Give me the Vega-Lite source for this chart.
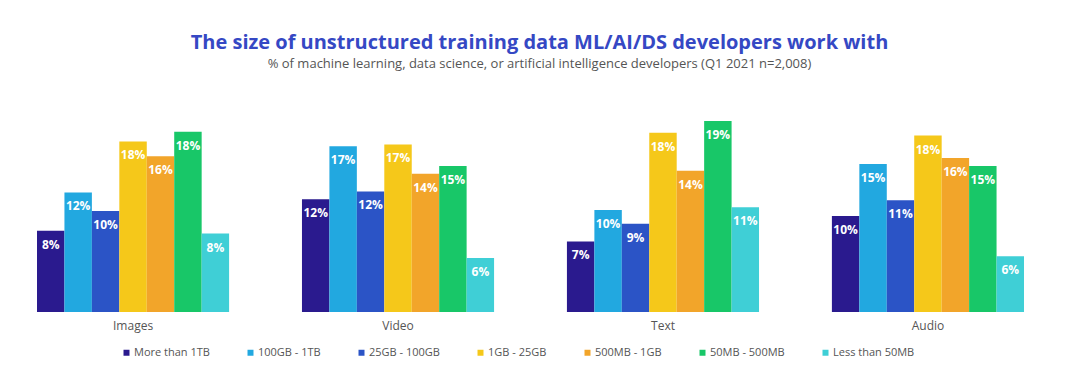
{
  "$schema": "https://vega.github.io/schema/vega-lite/v6.json",
  "width": 987,
  "height": 212,
  "autosize": "none",
  "padding": {"left": 37, "top": 100, "right": 56, "bottom": 78},
  "background": "white",
  "config": {"view": {"stroke": null}, "font": "Open Sans"},
  "title": {
    "text": "The size of unstructured training data ML/AI/DS developers work with",
    "subtitle": "% of machine learning, data science, or artificial intelligence developers (Q1 2021 n=2,008)",
    "anchor": "middle",
    "dx": 9,
    "offset": 29,
    "font": "Open Sans",
    "fontSize": 20,
    "fontWeight": "bold",
    "color": "#3548c4",
    "subtitleFont": "Open Sans",
    "subtitleFontSize": 13,
    "subtitleColor": "#555555",
    "subtitlePadding": 5
  },
  "data": {
    "values": [
      {"type": "Images", "size": "More than 1TB", "value": 8.3, "label": "8%"},
      {"type": "Images", "size": "100GB - 1TB", "value": 12.2, "label": "12%"},
      {"type": "Images", "size": "25GB - 100GB", "value": 10.3, "label": "10%"},
      {"type": "Images", "size": "1GB - 25GB", "value": 17.4, "label": "18%"},
      {"type": "Images", "size": "500MB - 1GB", "value": 15.9, "label": "16%"},
      {"type": "Images", "size": "50MB - 500MB", "value": 18.4, "label": "18%"},
      {"type": "Images", "size": "Less than 50MB", "value": 8.0, "label": "8%"},
      {"type": "Video", "size": "More than 1TB", "value": 11.5, "label": "12%"},
      {"type": "Video", "size": "100GB - 1TB", "value": 16.9, "label": "17%"},
      {"type": "Video", "size": "25GB - 100GB", "value": 12.3, "label": "12%"},
      {"type": "Video", "size": "1GB - 25GB", "value": 17.1, "label": "17%"},
      {"type": "Video", "size": "500MB - 1GB", "value": 14.1, "label": "14%"},
      {"type": "Video", "size": "50MB - 500MB", "value": 14.9, "label": "15%"},
      {"type": "Video", "size": "Less than 50MB", "value": 5.5, "label": "6%"},
      {"type": "Text", "size": "More than 1TB", "value": 7.2, "label": "7%"},
      {"type": "Text", "size": "100GB - 1TB", "value": 10.4, "label": "10%"},
      {"type": "Text", "size": "25GB - 100GB", "value": 9.0, "label": "9%"},
      {"type": "Text", "size": "1GB - 25GB", "value": 18.3, "label": "18%"},
      {"type": "Text", "size": "500MB - 1GB", "value": 14.4, "label": "14%"},
      {"type": "Text", "size": "50MB - 500MB", "value": 19.5, "label": "19%"},
      {"type": "Text", "size": "Less than 50MB", "value": 10.7, "label": "11%"},
      {"type": "Audio", "size": "More than 1TB", "value": 9.8, "label": "10%"},
      {"type": "Audio", "size": "100GB - 1TB", "value": 15.1, "label": "15%"},
      {"type": "Audio", "size": "25GB - 100GB", "value": 11.4, "label": "11%"},
      {"type": "Audio", "size": "1GB - 25GB", "value": 18.0, "label": "18%"},
      {"type": "Audio", "size": "500MB - 1GB", "value": 15.7, "label": "16%"},
      {"type": "Audio", "size": "50MB - 500MB", "value": 14.9, "label": "15%"},
      {"type": "Audio", "size": "Less than 50MB", "value": 5.7, "label": "6%"}
    ]
  },
  "encoding": {
    "x": {
      "field": "type",
      "type": "nominal",
      "sort": ["Images", "Video", "Text", "Audio"],
      "scale": {"paddingInner": 0.275, "paddingOuter": 0},
      "axis": {
        "title": null,
        "domain": false,
        "ticks": false,
        "labelAngle": 0,
        "labelPadding": 8,
        "labelFontSize": 12,
        "labelColor": "#555555",
        "labelFont": "Open Sans"
      }
    },
    "xOffset": {
      "field": "size",
      "type": "nominal",
      "sort": ["More than 1TB", "100GB - 1TB", "25GB - 100GB", "1GB - 25GB", "500MB - 1GB", "50MB - 500MB", "Less than 50MB"],
      "scale": {"paddingInner": 0, "paddingOuter": 0}
    },
    "y": {
      "field": "value",
      "type": "quantitative",
      "scale": {"domain": [0, 21.63]},
      "axis": null
    }
  },
  "layer": [
    {
      "mark": {"type": "bar"},
      "encoding": {
        "color": {
          "field": "size",
          "type": "nominal",
          "sort": ["More than 1TB", "100GB - 1TB", "25GB - 100GB", "1GB - 25GB", "500MB - 1GB", "50MB - 500MB", "Less than 50MB"],
          "scale": {
            "domain": ["More than 1TB", "100GB - 1TB", "25GB - 100GB", "1GB - 25GB", "500MB - 1GB", "50MB - 500MB", "Less than 50MB"],
            "range": ["#2a1a8e", "#22a8e0", "#2b54c6", "#f5c81a", "#f2a52a", "#18c768", "#3fcfd6"]
          },
          "legend": {
            "title": null,
            "orient": "none",
            "legendX": 84,
            "legendY": 247,
            "direction": "horizontal",
            "columns": 7,
            "symbolType": "square",
            "symbolSize": 36,
            "symbolStrokeWidth": 0,
            "labelFontSize": 11,
            "labelColor": "#555555",
            "labelFont": "Open Sans",
            "labelOffset": 2,
            "columnPadding": 35
          }
        }
      }
    },
    {
      "mark": {
        "type": "text",
        "baseline": "top",
        "dy": 9,
        "color": "white",
        "fontSize": 12,
        "fontWeight": "bold",
        "font": "Open Sans"
      },
      "encoding": {
        "text": {"field": "label"}
      }
    }
  ]
}
